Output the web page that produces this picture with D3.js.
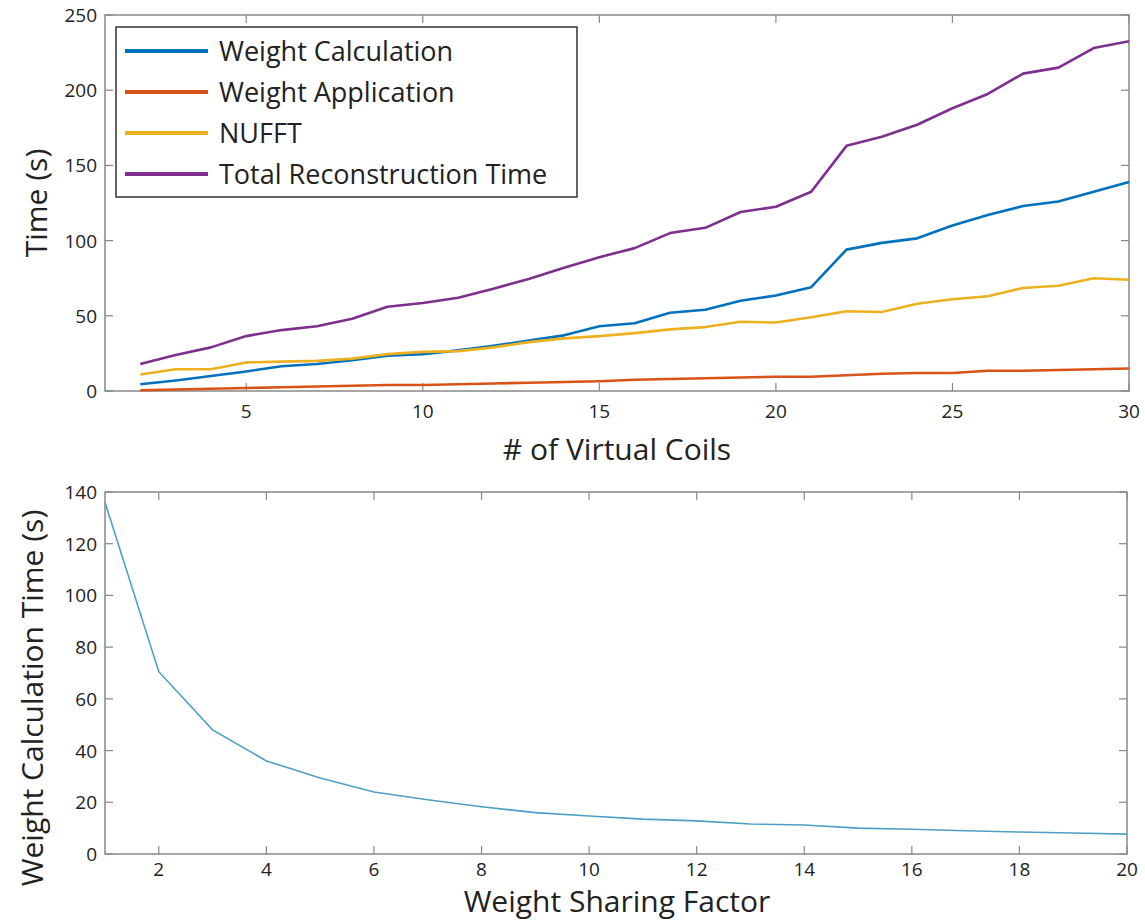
<!DOCTYPE html>
<html>
<head>
<meta charset="utf-8">
<script src="https://cdn.jsdelivr.net/npm/d3@7"></script>
<style>
  body { margin: 0; background: #fff; }
  text { font-family: "Open Sans", "Noto Sans", sans-serif; fill: #222; }
</style>
</head>
<body>
<div id="chart"></div>
<script>
let w = 1145, h = 923

// top panel data
let coils = d3.range(2, 31)
let weightCalc = [4.5, 7, 10, 13, 16.5, 18, 20.5, 23.5, 24.5, 27, 30, 33.5, 37, 43, 45, 52, 54, 60, 63.5, 69, 94, 98.5, 101.5, 110, 117, 123, 126, 132.5, 139]
let weightApp = [0.5, 1, 1.5, 2, 2.5, 3, 3.5, 4, 4, 4.5, 5, 5.5, 6, 6.5, 7.5, 8, 8.5, 9, 9.5, 9.5, 10.5, 11.5, 12, 12, 13.5, 13.5, 14, 14.5, 15]
let nufft = [11, 14.5, 14.5, 19, 19.5, 20, 21.5, 24.5, 26, 26.5, 29, 32.5, 35, 36.5, 38.5, 41, 42.5, 46, 45.5, 49, 53, 52.5, 58, 61, 63, 68.5, 70, 75, 74]
let total = [18, 24, 29, 36.5, 40.5, 43, 48, 56, 58.5, 62, 68, 74.5, 82, 89, 95, 105, 108.5, 119, 122.5, 132.5, 163, 169, 177, 188, 197.5, 211, 215, 228, 232.5]
let seriesNames = ["Weight Calculation", "Weight Application", "NUFFT", "Total Reconstruction Time"]
let seriesColors = ["#0072BD", "#D95319", "#EDB120", "#7E2F8E"]
let topXTicks = [5, 10, 15, 20, 25, 30]
let topYTicks = [0, 50, 100, 150, 200, 250]

// bottom panel data
let sharing = d3.range(1, 21)
let sharingTime = [136, 70.5, 48, 36, 29.4, 24, 21, 18.3, 16, 14.7, 13.5, 12.8, 11.6, 11.2, 10, 9.6, 9, 8.5, 8.1, 7.7]
let botXTicks = [2, 4, 6, 8, 10, 12, 14, 16, 18, 20]
let botYTicks = [0, 20, 40, 60, 80, 100, 120, 140]

let svg = d3.select("#chart").append("svg")
	.attr("width", w)
	.attr("height", h)

let axisColor = "#888"

// draws a matlab-style boxed axes with inward ticks on all sides
let drawBox = (x, y, xTicks, yTicks, m, labelGap) => {
	let g = svg.append("g")
	let tick = 8
	g.append("rect")
		.attr("x", m.left).attr("y", m.top)
		.attr("width", m.right - m.left).attr("height", m.bottom - m.top)
		.attr("fill", "none").attr("stroke", axisColor).attr("stroke-width", 1.5)

	xTicks.forEach(t => {
		g.append("line").attr("x1", x(t)).attr("x2", x(t))
			.attr("y1", m.bottom).attr("y2", m.bottom - tick)
			.attr("stroke", axisColor).attr("stroke-width", 1.2)
		g.append("line").attr("x1", x(t)).attr("x2", x(t))
			.attr("y1", m.top).attr("y2", m.top + tick)
			.attr("stroke", axisColor).attr("stroke-width", 1.2)
		g.append("text").attr("x", x(t)).attr("y", m.bottom + labelGap)
			.attr("text-anchor", "middle").attr("font-size", 19)
			.text(t)
	})
	yTicks.forEach(t => {
		g.append("line").attr("x1", m.left).attr("x2", m.left + tick)
			.attr("y1", y(t)).attr("y2", y(t))
			.attr("stroke", axisColor).attr("stroke-width", 1.2)
		g.append("line").attr("x1", m.right).attr("x2", m.right - tick)
			.attr("y1", y(t)).attr("y2", y(t))
			.attr("stroke", axisColor).attr("stroke-width", 1.2)
		g.append("text").attr("x", m.left - 8).attr("y", y(t) + 7)
			.attr("text-anchor", "end").attr("font-size", 19)
			.text(t)
	})
	return g
}

// ---- top panel ----
let m1 = {left: 105, right: 1129, top: 15, bottom: 391}
let x1 = d3.scaleLinear().domain([1, 30]).range([m1.left, m1.right])
let y1 = d3.scaleLinear().domain([0, 250]).range([m1.bottom, m1.top])
drawBox(x1, y1, topXTicks, topYTicks, m1, 27)

let topSeries = [weightCalc, weightApp, nufft, total]
let line1 = d3.line().x((d, i) => x1(coils[i])).y(d => y1(d))
topSeries.forEach((s, i) => {
	svg.append("path")
		.datum(s)
		.attr("d", line1)
		.attr("fill", "none")
		.attr("stroke", seriesColors[i])
		.attr("stroke-width", 2.6)
		.attr("stroke-linejoin", "round")
})

// legend
let leg = svg.append("g")
leg.append("rect")
	.attr("x", 116).attr("y", 27).attr("width", 461).attr("height", 170)
	.attr("fill", "#fff").attr("stroke", "#333").attr("stroke-width", 1.5)
seriesNames.forEach((n, i) => {
	let ly = 51 + i * 41
	leg.append("line").attr("x1", 125).attr("x2", 208).attr("y1", ly).attr("y2", ly)
		.attr("stroke", seriesColors[i]).attr("stroke-width", 4)
	leg.append("text").attr("x", 219).attr("y", ly + 10)
		.attr("font-size", 27).text(n)
})

svg.append("text")
	.attr("transform", "rotate(-90)")
	.attr("x", -(m1.top + m1.bottom) / 2).attr("y", 47)
	.attr("text-anchor", "middle").attr("font-size", 30)
	.text("Time (s)")
svg.append("text")
	.attr("x", 617).attr("y", 460)
	.attr("text-anchor", "middle").attr("font-size", 30)
	.text("# of Virtual Coils")

// ---- bottom panel ----
let m2 = {left: 105, right: 1127, top: 492, bottom: 854}
let x2 = d3.scaleLinear().domain([1, 20]).range([m2.left, m2.right])
let y2 = d3.scaleLinear().domain([0, 140]).range([m2.bottom, m2.top])
drawBox(x2, y2, botXTicks, botYTicks, m2, 22)

svg.append("path")
	.datum(sharingTime)
	.attr("d", d3.line().x((d, i) => x2(sharing[i])).y(d => y2(d)))
	.attr("fill", "none")
	.attr("stroke", "#4f9fc4")
	.attr("stroke-width", 1.6)

svg.append("text")
	.attr("transform", "rotate(-90)")
	.attr("x", -(m2.top + m2.bottom) / 2 - 25).attr("y", 43)
	.attr("text-anchor", "middle").attr("font-size", 30)
	.text("Weight Calculation Time (s)")
svg.append("text")
	.attr("x", 617).attr("y", 912)
	.attr("text-anchor", "middle").attr("font-size", 30)
	.text("Weight Sharing Factor")
</script>
</body>
</html>
